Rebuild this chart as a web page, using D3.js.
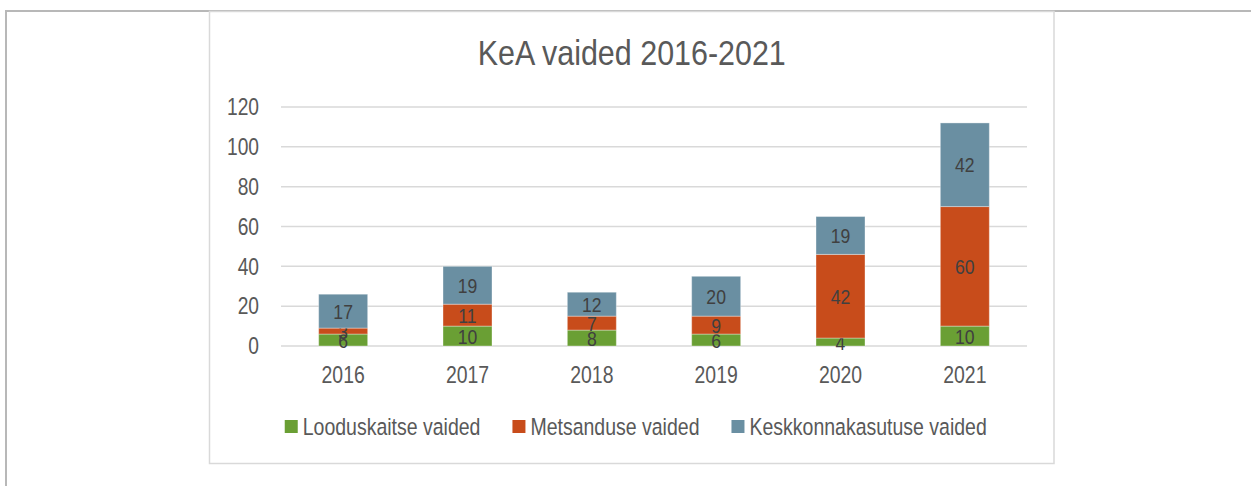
<!DOCTYPE html>
<html>
<head>
<meta charset="utf-8">
<script src="https://cdn.jsdelivr.net/npm/d3@7"></script>
<style>
body { margin:0; background:#fff; }
text { font-family: "Liberation Sans", Arial, sans-serif; }
</style>
</head>
<body>
<div id="chart"></div>
<script>
// andmed
var years = ["2016", "2017", "2018", "2019", "2020", "2021"];
var seriesNames = ["Looduskaitse vaided", "Metsanduse vaided", "Keskkonnakasutuse vaided"];
var looduskaitse = [6, 10, 8, 6, 4, 10];
var metsandus = [3, 11, 7, 9, 42, 60];
var keskkonnakasutus = [17, 19, 12, 20, 19, 42];
var yTicks = [0, 20, 40, 60, 80, 100, 120];
var colors = ["#6a9f34", "#c84c1b", "#6a8fa2"];

var W = 1251, H = 486;
var frame = {left:209.5, top:11.5, right:1054, bottom:463.5};
var plot = {left:281, right:1027, top:107, bottom:346};

// narrow font look: Arial Narrow is not installed, so squeeze Liberation Sans horizontally
function squeeze(sel, k){
	sel.each(function(){
		var t = d3.select(this);
		var tx = +t.attr("x") || 0, ty = +t.attr("y") || 0;
		t.attr("x", 0).attr("y", 0)
			.attr("transform", "translate(" + tx + "," + ty + ") scale(" + k + ",1)");
	});
}

var svg = d3.select("#chart").append("svg")
	.attr("width", W)
	.attr("height", H);

// outer frame (only left + top visible)
svg.append("path")
	.attr("d", "M6,486 L6,11 L1251,11")
	.style("fill", "none")
	.style("stroke", "#b8b8b8")
	.style("stroke-width", 2);

svg.append("rect")
	.attr("x", frame.left)
	.attr("y", frame.top)
	.attr("width", frame.right - frame.left)
	.attr("height", frame.bottom - frame.top)
	.style("fill", "#fff")
	.style("stroke", "#d9d9d9")
	.style("stroke-width", 1.5);

var table = years.map(function(d, i) {
	return {year:d, s0:looduskaitse[i], s1:metsandus[i], s2:keskkonnakasutus[i]};
});
var stacked = d3.stack().keys(["s0", "s1", "s2"])(table);

var x = d3.scaleBand()
	.domain(years)
	.range([plot.left, plot.right])
	.paddingInner(0.606)
	.paddingOuter(0.303);

var y = d3.scaleLinear()
	.domain([0, 120])
	.range([plot.bottom, plot.top]);

// gridlines
svg.append("g")
	.selectAll("line")
	.data(yTicks)
	.join("line")
	.attr("x1", plot.left)
	.attr("x2", plot.right)
	.attr("y1", function(d) { return y(d); })
	.attr("y2", function(d) { return y(d); })
	.style("stroke", "#d9d9d9")
	.style("stroke-width", 1.5);

var yAxis = d3.axisLeft(y).tickValues(yTicks).tickSize(0).tickPadding(22);
var gy = svg.append("g")
	.attr("transform", "translate(" + plot.left + ",0)")
	.call(yAxis);
gy.select(".domain").remove();
gy.selectAll("text")
	.style("font-size", "24px")
	.style("fill", "#595959")
	.call(squeeze, 0.8);

var xAxis = d3.axisBottom(x).tickSize(0).tickPadding(20);
var gx = svg.append("g")
	.attr("transform", "translate(0," + plot.bottom + ")")
	.call(xAxis);
gx.select(".domain").remove();
gx.selectAll("text")
	.style("font-size", "24px")
	.style("fill", "#595959")
	.call(squeeze, 0.81);

// bars
var layers = svg.append("g")
	.selectAll("g")
	.data(stacked)
	.join("g")
	.style("fill", function(d, i) { return colors[i]; });

layers.selectAll("rect")
	.data(function(d) { return d; })
	.join("rect")
	.attr("x", function(d) { return x(d.data.year); })
	.attr("width", x.bandwidth())
	.attr("y", function(d) { return y(d[1]); })
	.attr("height", function(d) { return y(d[0]) - y(d[1]); })
	.style("stroke", "rgba(255,255,255,0.35)")
	.style("stroke-width", 1);

// data labels (overlap on small segments like in the original)
layers.selectAll("text")
	.data(function(d) { return d; })
	.join("text")
	.attr("x", function(d) { return x(d.data.year) + x.bandwidth()/2; })
	.attr("y", function(d) { return (y(d[0]) + y(d[1]))/2; })
	.attr("text-anchor", "middle")
	.attr("dy", "0.36em")
	.style("font-size", "21px")
	.style("fill", "#404040")
	.text(function(d) { return d[1] - d[0]; })
	.call(squeeze, 0.84);

// title
svg.append("text")
	.attr("x", (frame.left + frame.right)/2)
	.attr("y", 65)
	.attr("text-anchor", "middle")
	.style("font-size", "35px")
	.style("fill", "#595959")
	.text("KeA vaided 2016-2021")
	.call(squeeze, 0.87);

// legend
var lk = 0.83;
var legend = svg.append("g");
var items = legend.selectAll("g")
	.data(seriesNames)
	.join("g");
items.append("rect")
	.attr("width", 13)
	.attr("height", 13)
	.attr("y", -7)
	.style("fill", function(d, i) { return colors[i]; });
items.append("text")
	.attr("x", 18)
	.attr("dy", "0.36em")
	.style("font-size", "23.5px")
	.style("fill", "#595959")
	.text(function(d) { return d; })
	.call(squeeze, lk);

var pos = 0;
items.each(function() {
	var w = 18 + lk * d3.select(this).select("text").node().getComputedTextLength();
	d3.select(this).attr("transform", "translate(" + pos + ",0)");
	pos += w + 32;
});
var legendWidth = pos - 32;
legend.attr("transform", "translate(" + ((frame.left + frame.right)/2 + 4 - legendWidth/2) + ",427)");
</script>
</body>
</html>
